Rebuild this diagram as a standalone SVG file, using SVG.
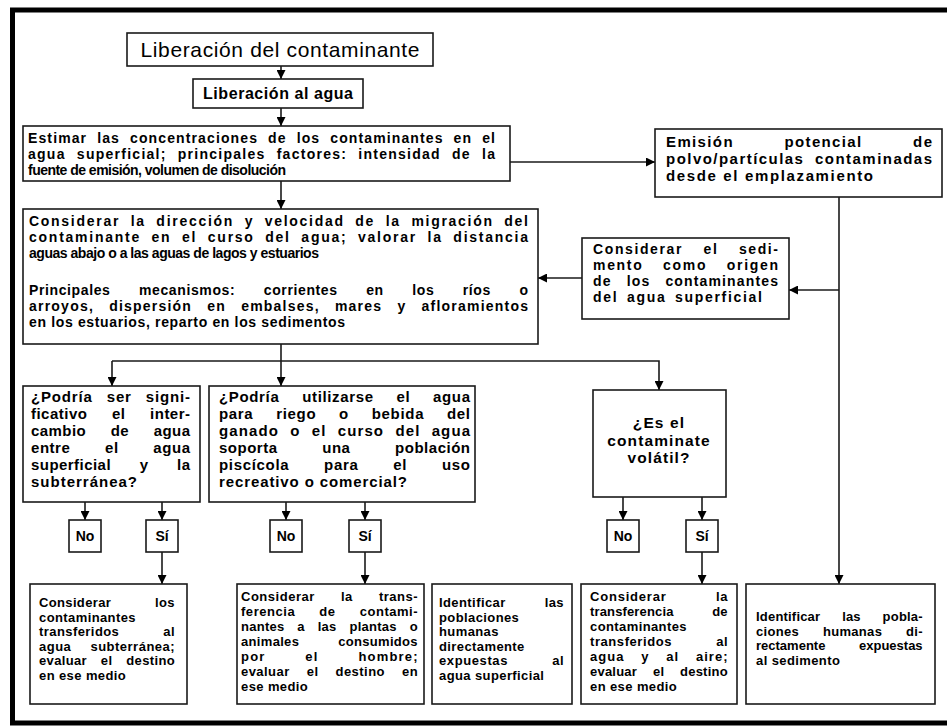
<svg xmlns="http://www.w3.org/2000/svg" width="947" height="726" viewBox="0 0 947 726">
<style>
.bx{fill:#fff;stroke:#1a1a1a;stroke-width:1.6}
.cn{fill:none;stroke:#1a1a1a;stroke-width:1.6}
text{font-family:"Liberation Sans",Arial,sans-serif;font-weight:bold;fill:#000}
.f14{font-size:14px}
.f15{font-size:15px}
.f16{font-size:15.5px;letter-spacing:1.1px}
.nar{font-family:"Liberation Sans Narrow","Arial Narrow","Liberation Sans",sans-serif;font-size:13px;letter-spacing:0.4px}
.yn{font-size:14px;text-anchor:middle}
.mid{text-anchor:middle}
</style>
<defs>
<marker id="ah" viewBox="0 0 10 10" refX="10" refY="5" markerWidth="9" markerHeight="9" markerUnits="userSpaceOnUse" orient="auto"><path d="M0,0 L10,5 L0,10 z" fill="#000"/></marker>
</defs>
<rect width="947" height="726" fill="#fff"/>
<path d="M947,10 H12.5 V723 H947" fill="none" stroke="#000" stroke-width="5"/>

<g id="connectors">
<path class="cn" d="M281,66 V79" marker-end="url(#ah)"/>
<path class="cn" d="M281,108 V126" marker-end="url(#ah)"/>
<path class="cn" d="M281,181 V209" marker-end="url(#ah)"/>
<path class="cn" d="M510,162 H655" marker-end="url(#ah)"/>
<path class="cn" d="M839,197 V584" marker-end="url(#ah)"/>
<path class="cn" d="M839,290 H789" marker-end="url(#ah)"/>
<path class="cn" d="M582,278 H538" marker-end="url(#ah)"/>
<path class="cn" d="M281,344 V386" marker-end="url(#ah)"/>
<path class="cn" d="M112,361 H659 V390" marker-end="url(#ah)"/>
<path class="cn" d="M112,361 V386" marker-end="url(#ah)"/>
<path class="cn" d="M85,502 V520" marker-end="url(#ah)"/>
<path class="cn" d="M162,502 V520" marker-end="url(#ah)"/>
<path class="cn" d="M286,502 V520" marker-end="url(#ah)"/>
<path class="cn" d="M365,502 V520" marker-end="url(#ah)"/>
<path class="cn" d="M623,497 V520" marker-end="url(#ah)"/>
<path class="cn" d="M702,497 V520" marker-end="url(#ah)"/>
<path class="cn" d="M162,552 V584" marker-end="url(#ah)"/>
<path class="cn" d="M365,552 V584" marker-end="url(#ah)"/>
<path class="cn" d="M702,552 V584" marker-end="url(#ah)"/>
</g>

<g id="n1">
<rect class="bx" x="127" y="33" width="306" height="33"/>
<text x="280" y="57" class="mid" style="font-size:21px;font-weight:normal" textLength="279" lengthAdjust="spacing">Liberación del contaminante</text>
</g>
<g id="n2">
<rect class="bx" x="193" y="79" width="170" height="29"/>
<text x="278" y="99" class="mid" style="font-size:16px" textLength="150" lengthAdjust="spacing">Liberación al agua</text>
</g>
<g id="n3" class="f14">
<rect class="bx" x="23" y="126" width="487" height="55"/>
<text x="28" y="143" style="word-spacing:5px" textLength="467" lengthAdjust="spacing">Estimar las concentraciones de los contaminantes en el</text>
<text x="28" y="159" style="word-spacing:6px" textLength="467" lengthAdjust="spacing">agua superficial; principales factores: intensidad de la</text>
<text x="28" y="175" textLength="258" lengthAdjust="spacing">fuente de emisión, volumen de disolución</text>
</g>
<g id="n4" class="f15">
<rect class="bx" x="655" y="129" width="287" height="68"/>
<text x="666" y="147" style="word-spacing:45px" textLength="266" lengthAdjust="spacing">Emisión potencial de</text>
<text x="666" y="164" style="word-spacing:5px" textLength="266" lengthAdjust="spacing">polvo/partículas contaminadas</text>
<text x="666" y="181" textLength="207" lengthAdjust="spacing">desde el emplazamiento</text>
</g>
<g id="n5" class="f14">
<rect class="bx" x="582" y="238" width="207" height="81"/>
<text x="593" y="254" style="word-spacing:15px" textLength="185" lengthAdjust="spacing">Considerar el sedi-</text>
<text x="593" y="270" style="word-spacing:14px" textLength="185" lengthAdjust="spacing">mento como origen</text>
<text x="593" y="286" style="word-spacing:10px" textLength="185" lengthAdjust="spacing">de los contaminantes</text>
<text x="593" y="302" style="word-spacing:3px" textLength="169" lengthAdjust="spacing">del agua superficial</text>
</g>
<g id="n6" class="f14">
<rect class="bx" x="23" y="209" width="515" height="135"/>
<text x="29" y="226" style="word-spacing:5px" textLength="499" lengthAdjust="spacing">Considerar la dirección y velocidad de la migración del</text>
<text x="29" y="242" style="word-spacing:5px" textLength="499" lengthAdjust="spacing">contaminante en el curso del agua; valorar la distancia</text>
<text x="29" y="258" textLength="290" lengthAdjust="spacing">aguas abajo o a las aguas de lagos y estuarios</text>
<text x="29" y="295" style="word-spacing:24px" textLength="499" lengthAdjust="spacing">Principales mecanismos: corrientes en los ríos o</text>
<text x="29" y="311" style="word-spacing:10px" textLength="499" lengthAdjust="spacing">arroyos, dispersión en embalses, mares y afloramientos</text>
<text x="29" y="327" textLength="316" lengthAdjust="spacing">en los estuarios, reparto en los sedimentos</text>
</g>
<g id="n7" class="f15">
<rect class="bx" x="23" y="386" width="177" height="116"/>
<text x="31" y="402" style="word-spacing:9px" textLength="159" lengthAdjust="spacing">¿Podría ser signi-</text>
<text x="31" y="419" style="word-spacing:20px" textLength="159" lengthAdjust="spacing">ficativo el inter-</text>
<text x="31" y="436" style="word-spacing:20px" textLength="159" lengthAdjust="spacing">cambio de agua</text>
<text x="31" y="453" style="word-spacing:30px" textLength="159" lengthAdjust="spacing">entre el agua</text>
<text x="31" y="470" style="word-spacing:24px" textLength="159" lengthAdjust="spacing">superficial y la</text>
<text x="31" y="487" textLength="106" lengthAdjust="spacing">subterránea?</text>
</g>
<g id="n8" class="f15">
<rect class="bx" x="209" y="386" width="266" height="116"/>
<text x="219" y="402" style="word-spacing:18px" textLength="251" lengthAdjust="spacing">¿Podría utilizarse el agua</text>
<text x="219" y="419" style="word-spacing:18px" textLength="251" lengthAdjust="spacing">para riego o bebida del</text>
<text x="219" y="436" style="word-spacing:6px" textLength="251" lengthAdjust="spacing">ganado o el curso del agua</text>
<text x="219" y="453" style="word-spacing:40px" textLength="251" lengthAdjust="spacing">soporta una población</text>
<text x="219" y="470" style="word-spacing:30px" textLength="251" lengthAdjust="spacing">piscícola para el uso</text>
<text x="219" y="487" textLength="188" lengthAdjust="spacing">recreativo o comercial?</text>
</g>
<g id="n9" class="f16">
<rect class="bx" x="593" y="390" width="133" height="107"/>
<text x="659" y="428" class="mid">¿Es el</text>
<text x="659" y="445.5" class="mid">contaminate</text>
<text x="659" y="463" class="mid">volátil?</text>
</g>
<g id="no1"><rect class="bx" x="69" y="520" width="32" height="32"/><text x="85" y="541" class="yn">No</text></g>
<g id="si1"><rect class="bx" x="146" y="520" width="32" height="32"/><text x="162" y="541" class="yn">Sí</text></g>
<g id="no2"><rect class="bx" x="270" y="520" width="32" height="32"/><text x="286" y="541" class="yn">No</text></g>
<g id="si2"><rect class="bx" x="349" y="520" width="32" height="32"/><text x="365" y="541" class="yn">Sí</text></g>
<g id="no3"><rect class="bx" x="607" y="520" width="32" height="32"/><text x="623" y="541" class="yn">No</text></g>
<g id="si3"><rect class="bx" x="686" y="520" width="32" height="32"/><text x="702" y="541" class="yn">Sí</text></g>

<g id="b1" class="nar">
<rect class="bx" x="30" y="584" width="157" height="120"/>
<text x="39" y="607" style="word-spacing:40px" textLength="136" lengthAdjust="spacing">Considerar los</text>
<text x="39" y="621.5">contaminantes</text>
<text x="39" y="636" style="word-spacing:40px" textLength="136" lengthAdjust="spacing">transferidos al</text>
<text x="39" y="650.5" style="word-spacing:15px" textLength="136" lengthAdjust="spacing">agua subterránea;</text>
<text x="39" y="665" style="word-spacing:10px" textLength="136" lengthAdjust="spacing">evaluar el destino</text>
<text x="39" y="679.5">en ese medio</text>
</g>
<g id="b2" class="nar">
<rect class="bx" x="237" y="584" width="187" height="120"/>
<text x="241" y="601" style="word-spacing:22px" textLength="177" lengthAdjust="spacing">Considerar la trans-</text>
<text x="241" y="616" style="word-spacing:20px" textLength="177" lengthAdjust="spacing">ferencia de contami-</text>
<text x="241" y="631" style="word-spacing:9px" textLength="177" lengthAdjust="spacing">nantes a las plantas o</text>
<text x="241" y="646" style="word-spacing:35px" textLength="177" lengthAdjust="spacing">animales consumidos</text>
<text x="241" y="661" style="word-spacing:35px" textLength="177" lengthAdjust="spacing">por el hombre;</text>
<text x="241" y="676" style="word-spacing:13px" textLength="177" lengthAdjust="spacing">evaluar el destino en</text>
<text x="241" y="691">ese medio</text>
</g>
<g id="b3" class="nar">
<rect class="bx" x="432" y="584" width="140" height="120"/>
<text x="439" y="607" style="word-spacing:35px" textLength="125" lengthAdjust="spacing">Identificar las</text>
<text x="439" y="621.5">poblaciones</text>
<text x="439" y="636">humanas</text>
<text x="439" y="650.5">directamente</text>
<text x="439" y="665" style="word-spacing:40px" textLength="125" lengthAdjust="spacing">expuestas al</text>
<text x="439" y="679.5">agua superficial</text>
</g>
<g id="b4" class="nar">
<rect class="bx" x="581" y="584" width="156" height="120"/>
<text x="590" y="601" style="word-spacing:45px" textLength="138" lengthAdjust="spacing">Considerar la</text>
<text x="590" y="616" style="word-spacing:35px" textLength="138" lengthAdjust="spacing">transferencia de</text>
<text x="590" y="631">contaminantes</text>
<text x="590" y="646" style="word-spacing:40px" textLength="138" lengthAdjust="spacing">transferidos al</text>
<text x="590" y="661" style="word-spacing:12px" textLength="138" lengthAdjust="spacing">agua y al aire;</text>
<text x="590" y="676" style="word-spacing:12px" textLength="138" lengthAdjust="spacing">evaluar el destino</text>
<text x="590" y="691">en ese medio</text>
</g>
<g id="b5" class="nar">
<rect class="bx" x="746" y="584" width="189" height="120"/>
<text x="756" y="621" style="word-spacing:18px" textLength="167" lengthAdjust="spacing">Identificar las pobla-</text>
<text x="756" y="635.5" style="word-spacing:20px" textLength="167" lengthAdjust="spacing">ciones humanas di-</text>
<text x="756" y="650" style="word-spacing:30px" textLength="167" lengthAdjust="spacing">rectamente expuestas</text>
<text x="756" y="664.5">al sedimento</text>
</g>
</svg>
